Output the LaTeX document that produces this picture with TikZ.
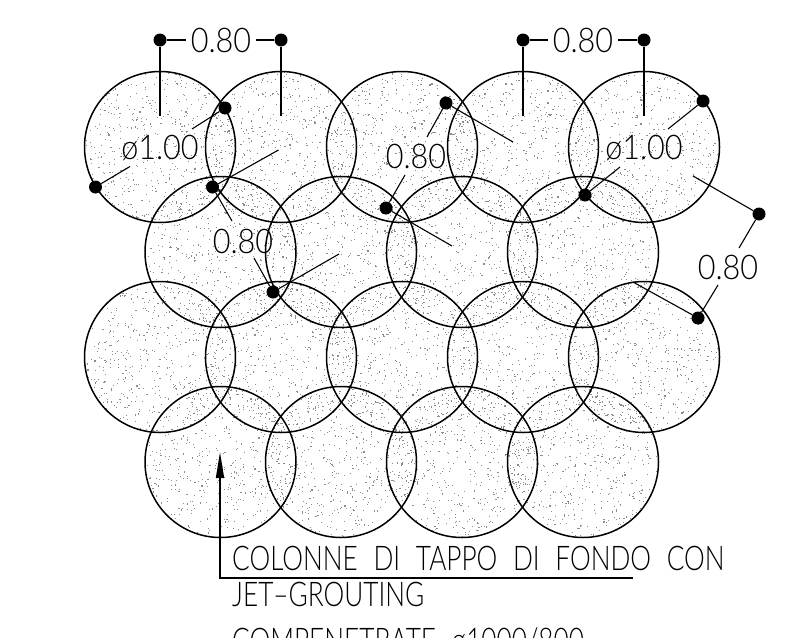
\documentclass[tikz,border=0pt]{standalone}
\usepackage{fontspec}
\usetikzlibrary{arrows.meta}
\newfontfamily\cadfont[FakeStretch=0.9]{Lato Light}
\newfontfamily\notefont[FakeStretch=0.77,WordSpace=2.2]{Lato Light}

\begin{document}
\begin{tikzpicture}
    [x=1pt, y=-1pt,
    colonna/.style={draw, circle, line width=1.5pt, minimum size=151pt, inner sep=0pt},
    punto/.style={circle, fill=black, minimum size=13pt, inner sep=0pt},
    quota/.style={inner sep=0pt, font=\cadfont\fontsize{34}{36}\selectfont},
    testo/.style={inner sep=0pt, anchor=base west, font=\notefont\fontsize{34}{36}\selectfont},
    linea/.style={line width=1.1pt}]
    \useasboundingbox (0,0) rectangle (810,637);

    % puntinato delle colonne
    \pgfmathsetseed{12}
    \begin{scope}[fill=black!45]
    \foreach \cx/\cy in {160/147,281/147,402/147,523/147,644/147,
        220.5/252,341/252,462/252,583/252,
        160/357,281/357,402/357,523/357,644/357,
        220.5/462,341/462,462/462,583/462}{
        \foreach \i in {1,...,460}{
            \pgfmathsetmacro{\ang}{360*rnd}
            \pgfmathsetmacro{\rad}{75*sqrt(rnd)}
            \fill ({\cx+\rad*cos(\ang)},{\cy+\rad*sin(\ang)}) rectangle ++(1.1,1.1);
        }
    }
    \end{scope}

    % colonne
    \foreach \nome/\cx/\cy in {a1/160/147,a2/281/147,a3/402/147,a4/523/147,a5/644/147,
        b1/220.5/252,b2/341/252,b3/462/252,b4/583/252,
        c1/160/357,c2/281/357,c3/402/357,c4/523/357,c5/644/357,
        d1/220.5/462,d2/341/462,d3/462/462,d4/583/462}
        \node[colonna] (\nome) at (\cx,\cy) {};

    % quote
    \node[quota] (q1) at (221,40) {0.80};
    \node[quota] (q2) at (583,40) {0.80};
    \node[quota] (q3) at (243,241) {0.80};
    \node[quota] (q4) at (416,156) {0.80};
    \node[quota] (q5) at (728,267) {0.80};
    \node[quota] (f1) at (160,148) {ø1.00};
    \node[quota] (f2) at (644,148) {ø1.00};

    \node[punto] (p1) at (160,40) {};
    \node[punto] (p2) at (281,40) {};
    \node[punto] (p3) at (523,40) {};
    \node[punto] (p4) at (644,40) {};
    \node[punto] (p5) at (95.5,187) {};
    \node[punto] (p6) at (225,108) {};
    \node[punto] (p7) at (212.5,187) {};
    \node[punto] (p8) at (273,292) {};
    \node[punto] (p9) at (446,103) {};
    \node[punto] (p10) at (386,208) {};
    \node[punto] (p11) at (703,101) {};
    \node[punto] (p12) at (585,195) {};
    \node[punto] (p13) at (759,214) {};
    \node[punto] (p14) at (698,318) {};

    \draw[linea] (p1) -- (186,40);
    \draw[linea] (p2) -- (256,40);
    \draw[linea] (p3) -- (548,40);
    \draw[linea] (p4) -- (618,40);
    \draw[linea] (p1) -- (160,116);
    \draw[linea] (p2) -- (281,116);
    \draw[linea] (p3) -- (523,116);
    \draw[linea] (p4) -- (644,116);

    \draw[linea] (p5) -- (130,166.5);
    \draw[linea] (p6) -- (192,129);
    \draw[linea] (p7) -- (278.5,150);
    \draw[linea] (p7) -- (232,221);
    \draw[linea] (p8) -- (339,254);
    \draw[linea] (p8) -- (254,258);
    \draw[linea] (p9) -- (513,142);
    \draw[linea] (p9) -- (427,137);
    \draw[linea] (p10) -- (452,246);
    \draw[linea] (p10) -- (405,175);
    \draw[linea] (p11) -- (668,129);
    \draw[linea] (p12) -- (620,167);
    \draw[linea] (p13) -- (693,176);
    \draw[linea] (p13) -- (739,248);
    \draw[linea] (p14) -- (633,282);
    \draw[linea] (p14) -- (718,285);

    % richiamo
    \coordinate (r1) at (633,578);
    \coordinate (r2) at (220,578);
    \coordinate (r3) at (220,452);
    \draw[line width=1.6pt, -{Triangle[length=26pt,width=8pt]}] (r1) -- (r2) -- (r3);
    \node[testo] (t1) at (232,570) {COLONNE DI TAPPO DI FONDO CON};
    \node[testo] (t2) at (232,606) {JET–GROUTING};
    \node[testo] (t3) at (232,652) {COMPENETRATE ø1000/800};

\end{tikzpicture}
\end{document}
